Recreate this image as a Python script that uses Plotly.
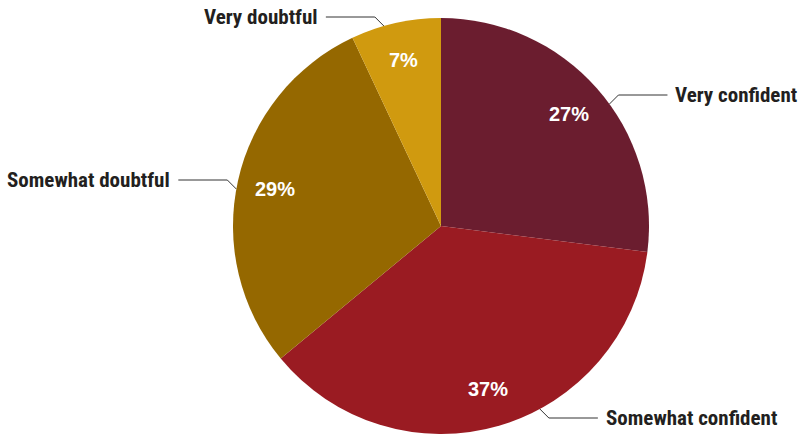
import math
import plotly.graph_objects as go

# Survey answers, drawn clockwise from 12 o'clock
categories = ["Very confident", "Somewhat confident", "Somewhat doubtful", "Very doubtful"]
shares = [27, 37, 29, 7]
colors = ["#6B1D2F", "#9A1B22", "#956800", "#D09A0F"]

# Canvas / geometry (pixels)
W, H = 798, 434
CX, CY, R = 441, 226, 208
PCT_R = 170          # radius where the percentage text sits
KNEE_DX = 9          # horizontal run of the short diagonal connector piece
LINE_LEN = 49        # horizontal leader length
TEXT_GAP = 6
# vertical placement of the outside category labels (pixels from the top)
label_y = {"Very confident": 95, "Somewhat confident": 418,
           "Somewhat doubtful": 180, "Very doubtful": 17}

LABEL_FONT = dict(family="Liberation Sans Narrow, Roboto Condensed, Arial Narrow, sans-serif",
                  size=21, color="#231F20")
PCT_FONT = dict(family="Liberation Sans, Arial, Helvetica, sans-serif", size=20, color="white")

fig = go.Figure()
fig.add_trace(go.Pie(
    labels=categories, values=shares, sort=False, direction="clockwise", rotation=0,
    marker=dict(colors=colors, line=dict(width=0)),
    textinfo="none", hoverinfo="label+percent", showlegend=False,
    domain=dict(x=[CX / W - 0.3, CX / W + 0.3], y=[0, (2 * R) / H]),
))

total = sum(shares)
annotations = []
cum = 0
for name, v in zip(categories, shares):
    mid = (cum + v / 2) / total * 2 * math.pi
    cum += v
    sx, sy = math.sin(mid), -math.cos(mid)
    # percentage inside the slice
    annotations.append(dict(x=CX + PCT_R * sx, y=CY + PCT_R * sy, xref="x", yref="y",
                            text=f"<b>{v}%</b>", showarrow=False, font=PCT_FONT))
    # leader line: pie edge -> knee -> horizontal run -> label
    ly = label_y[name]
    right = sx >= 0
    ey = ly + 9 if ly < CY else ly - 9
    ex = CX + (1 if right else -1) * math.sqrt(max(R * R - (ey - CY) ** 2, 0))
    kx = ex + (KNEE_DX if right else -KNEE_DX)
    hx = kx + (LINE_LEN if right else -LINE_LEN)
    fig.add_trace(go.Scatter(x=[ex, kx, hx], y=[ey, ly, ly], mode="lines",
                             line=dict(color="#333333", width=1), hoverinfo="skip",
                             showlegend=False, xaxis="x", yaxis="y"))
    tx = hx + (TEXT_GAP if right else -TEXT_GAP)
    annotations.append(dict(x=tx, y=ly, xref="x", yref="y", text=f"<b>{name}</b>",
                            showarrow=False, font=LABEL_FONT,
                            xanchor="left" if right else "right", yanchor="middle"))

fig.update_layout(
    width=W, height=H, margin=dict(l=0, r=0, t=0, b=0),
    paper_bgcolor="white", plot_bgcolor="rgba(0,0,0,0)",
    xaxis=dict(range=[0, W], visible=False, fixedrange=True, domain=[0, 1]),
    yaxis=dict(range=[H, 0], visible=False, fixedrange=True, domain=[0, 1]),
    annotations=annotations,
)

fig.write_html("out.html")
